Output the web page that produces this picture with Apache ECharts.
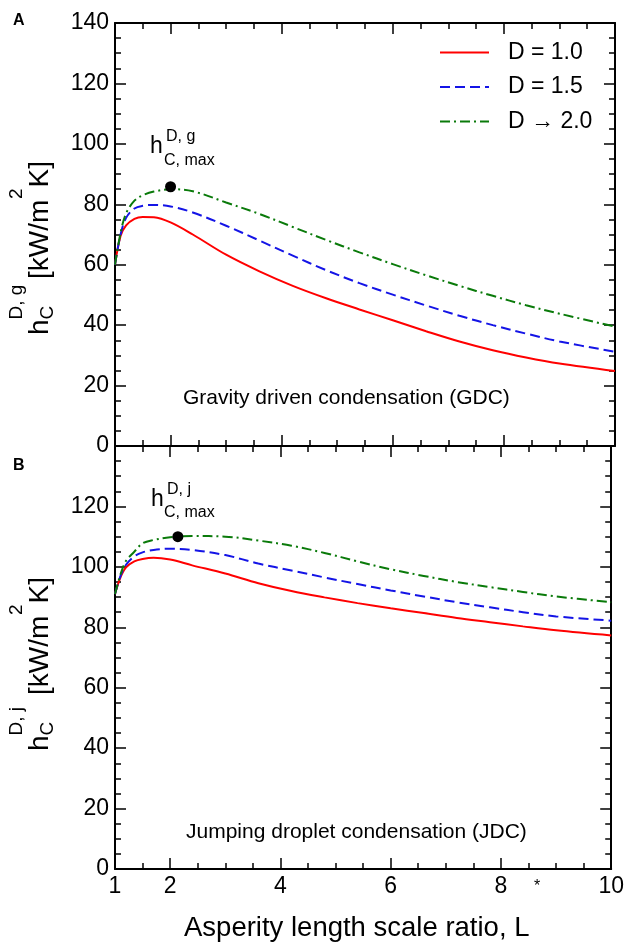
<!DOCTYPE html>
<html><head><meta charset="utf-8">
<script src="https://cdn.jsdelivr.net/npm/echarts@6/dist/echarts.min.js"></script>
<style>html,body{margin:0;padding:0;background:#fff}#c{width:627px;height:945px}</style>
</head><body><div id="c"></div>
<script>
// ---- data ----
const xValues = [1, 1.1, 1.2, 1.35, 1.5, 1.7, 2.0, 2.4, 3.0, 3.6, 4.2, 4.8, 5.4, 6.0, 6.6, 7.2, 7.8, 8.4, 9.0, 10.0];
const gdcD10 = [60, 69.5, 73, 75.2, 75.8, 75.7, 74, 70, 63.3, 57.8, 53.0, 48.9, 45.2, 41.6, 38.0, 34.6, 31.7, 29.3, 27.3, 24.8];
const gdcD15 = [60, 70, 75.5, 78.6, 79.5, 79.8, 79.3, 77.3, 72.9, 68.0, 63.0, 58.2, 53.9, 50.1, 46.5, 43.1, 40.0, 37.2, 34.6, 31.2];
const gdcD20 = [60, 70.5, 77, 81.2, 83, 84.2, 85, 84.3, 80.6, 76.8, 72.5, 68.2, 64.1, 60.2, 56.5, 53.0, 49.7, 46.6, 43.8, 39.5];
const jdcD10 = [91, 96.5, 99.8, 101.8, 102.6, 103, 102.4, 100.5, 97.8, 94.6, 92.0, 89.9, 88.0, 86.3, 84.7, 83.1, 81.7, 80.3, 79.0, 77.3];
const jdcD15 = [91, 97, 100.7, 103.5, 104.8, 105.6, 106, 105.6, 103.9, 101.1, 98.8, 96.5, 94.3, 92.2, 90.2, 88.3, 86.6, 85.0, 83.6, 82.2];
const jdcD20 = [91, 97.5, 102, 105, 107.8, 108.9, 109.8, 110.2, 110, 108.7, 107.0, 104.6, 101.8, 99.2, 97.0, 95.0, 93.3, 91.7, 90.2, 88.3];
const gdcMax = [2.0, 85.8];
const jdcMax = [2.14, 110.0];
const seriesNames = ['D = 1.0', 'D = 1.5', 'D \u2192 2.0'];
const xTickLabels = [1, 2, 4, 6, 8, 10];
const xMajorTicks = [2, 4, 6, 8, 10];
const yTickLabelsTop = [0, 20, 40, 60, 80, 100, 120, 140];
const yTickLabelsBottom = [0, 20, 40, 60, 80, 100, 120];

// ---- styling ----
const FONT = '"Liberation Sans", Arial, Helvetica, sans-serif';
const black = '#000';
const colors = ['#ff0000', '#1414e6', '#0a7a0a'];
const dashes = ['solid', [10, 5], [10, 4, 2, 4]];

function pairs(ys) { return xValues.map((x, i) => [x, ys[i]]); }

function xAxes(grid, position, withLabels) {
  const minor = {
    gridIndex: grid, type: 'value', min: 1, max: 10, interval: 0.5, position: position,
    axisLine: { show: true, onZero: false, lineStyle: { color: black, width: 2 } },
    axisTick: { show: true, inside: true, length: 6, lineStyle: { color: black, width: 1.5 } },
    axisLabel: { show: false }, splitLine: { show: false }
  };
  const major = {
    gridIndex: grid, type: 'value', min: 1, max: 10, position: position,
    axisLine: { show: false, onZero: false },
    axisTick: { show: true, inside: true, length: 11, customValues: xMajorTicks, lineStyle: { color: black, width: 1.5 } },
    axisLabel: withLabels ? { show: true, customValues: xTickLabels, fontSize: 23, fontFamily: FONT, color: black, margin: 6 } : { show: false },
    splitLine: { show: false }
  };
  return [minor, major];
}
function yAx(grid, position, labels) {
  return {
    gridIndex: grid, type: 'value', min: 0, max: 140, interval: 20, position: position,
    axisLine: { show: true, onZero: false, lineStyle: { color: black, width: 2 } },
    axisTick: { show: true, inside: true, length: 11, lineStyle: { color: black, width: 1.5 } },
    minorTick: { show: true, splitNumber: 4, length: 6, lineStyle: { color: black, width: 1.5 } },
    axisLabel: labels ? { show: true, customValues: labels, fontSize: 23, fontFamily: FONT, color: black, margin: 6 } : { show: false },
    splitLine: { show: false }, minorSplitLine: { show: false }
  };
}
function lineSeries(name, idx, ys, xi, yi) {
  return {
    name: name, type: 'line', xAxisIndex: xi, yAxisIndex: yi, data: pairs(ys),
    smooth: 0.35, symbol: 'none', showSymbol: false, z: 2 + idx,
    lineStyle: { color: colors[idx], width: 2, type: dashes[idx] },
    itemStyle: { color: colors[idx] }
  };
}
function txt(text, x, y, size, extra) {
  return { type: 'text', x: x, y: y, silent: true,
    style: Object.assign({ text: text, fontSize: size, fontFamily: FONT, fill: black, align: 'left', verticalAlign: 'middle' }, extra || {}) };
}
function yTitle(cy, sup) {
  return { type: 'group', x: 40, y: cy, rotation: Math.PI / 2, children: [
    txt('h', -87, 0, 28),
    txt('C', -71.5, 8, 19),
    txt(sup, -71.5, -23, 19),
    txt('[kW/m', -31, 0, 28),
    txt('2', 49, -23, 19),
    txt('K]', 60.5, 0, 28)
  ] };
}

const chart = echarts.init(document.getElementById('c'));
chart.setOption({
  animation: false,
  backgroundColor: '#fff',
  grid: [
    { left: 115, top: 23, width: 500, height: 423 },
    { left: 115, top: 446, width: 500, height: 423 }
  ],
  xAxis: [].concat(
    xAxes(0, 'bottom', false), xAxes(0, 'top', false),
    xAxes(1, 'bottom', true), xAxes(1, 'top', false)
  ),
  yAxis: [
    yAx(0, 'left', yTickLabelsTop), yAx(0, 'right', null),
    yAx(1, 'left', yTickLabelsBottom), yAx(1, 'right', null)
  ],
  legend: {
    data: seriesNames, orient: 'vertical', left: 439, top: 41, padding: 0,
    itemWidth: 49, itemHeight: 14, itemGap: 11.5, selectedMode: false,
    itemStyle: { opacity: 0 },
    textStyle: { fontSize: 23, fontFamily: FONT, color: black, lineHeight: 22, padding: [0, 0, 0, 14] }
  },
  series: [
    lineSeries(seriesNames[0], 0, gdcD10, 0, 0),
    lineSeries(seriesNames[1], 1, gdcD15, 0, 0),
    lineSeries(seriesNames[2], 2, gdcD20, 0, 0),
    lineSeries(seriesNames[0], 0, jdcD10, 4, 2),
    lineSeries(seriesNames[1], 1, jdcD15, 4, 2),
    lineSeries(seriesNames[2], 2, jdcD20, 4, 2),
    { type: 'scatter', xAxisIndex: 0, yAxisIndex: 0, data: [gdcMax], symbolSize: 11, itemStyle: { color: black, opacity: 1 }, z: 10 },
    { type: 'scatter', xAxisIndex: 4, yAxisIndex: 2, data: [jdcMax], symbolSize: 11, itemStyle: { color: black, opacity: 1 }, z: 10 }
  ],
  graphic: [
    txt('A', 13, 21, 16, { fontWeight: 'bold' }),
    txt('B', 13, 466, 16, { fontWeight: 'bold' }),
    yTitle(248, 'D, g'),
    yTitle(664, 'D, j'),
    txt('h', 150, 147, 23),
    txt('C, max', 164, 161, 16),
    txt('D, g', 166, 137, 16),
    txt('h', 151, 500, 23),
    txt('C, max', 164, 513, 16),
    txt('D, j', 167, 490, 16),
    txt('Gravity driven condensation (GDC)', 183, 398, 21),
    txt('Jumping droplet condensation (JDC)', 186, 832, 21),
    txt('Asperity length scale ratio, L', 184, 928, 27.5),
    txt('*', 534, 887, 16)
  ]
});
</script></body></html>
